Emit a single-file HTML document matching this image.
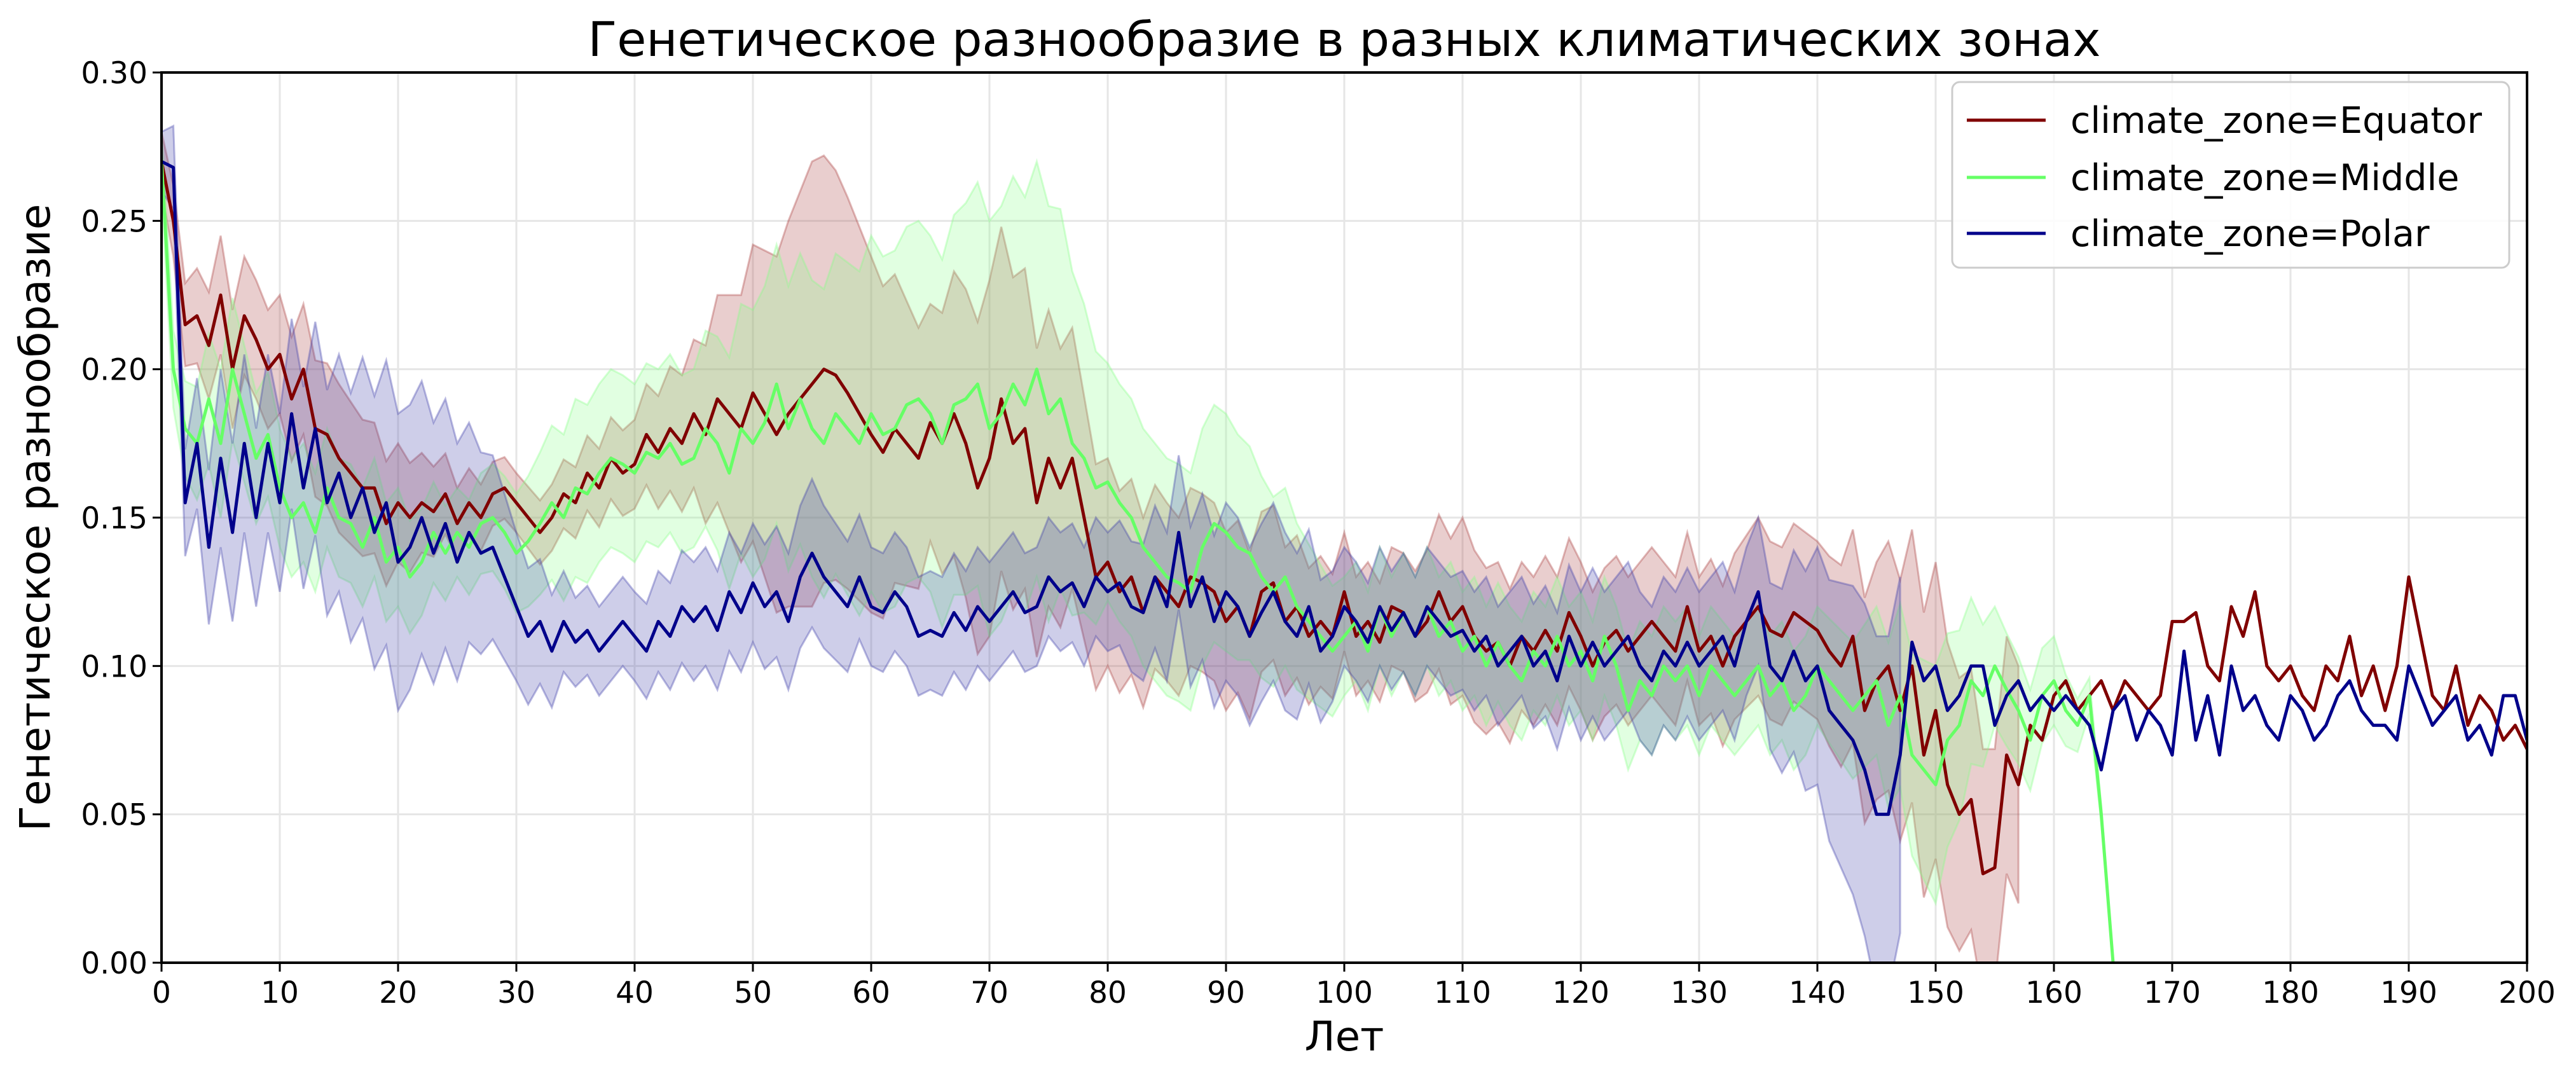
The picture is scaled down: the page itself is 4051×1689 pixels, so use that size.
<!DOCTYPE html>
<html><head><meta charset="utf-8"><style>
html,body{margin:0;padding:0;background:#fff;}
svg{display:block;font-family:"DejaVu Sans","Liberation Sans",sans-serif;}
</style></head><body>
<svg id="chart" width="4051" height="1689" viewBox="0 0 4051 1689" xmlns="http://www.w3.org/2000/svg">
<defs><clipPath id="clip"><rect x="254" y="114" width="3720" height="1400"/></clipPath></defs>
<rect width="4051" height="1689" fill="#fff"/>
<g id="grid"></g>
<g id="bands" clip-path="url(#clip)"></g>
<g id="lines" clip-path="url(#clip)"></g>
<rect x="254" y="114" width="3720" height="1400" fill="none" stroke="#000" stroke-width="4"/>
<g id="ticks"></g>
<text x="2114" y="88" font-size="75" text-anchor="middle">Генетическое разнообразие в разных климатических зонах</text>
<text x="2114" y="1652" font-size="64" text-anchor="middle">Лет</text>
<text transform="translate(78,814) rotate(-90)" font-size="66" text-anchor="middle">Генетическое разнообразие</text>
<g>
<rect x="3070" y="129" width="876" height="292" rx="12" fill="#fff" fill-opacity="0.85" stroke="#ccc" stroke-width="3"/>
<line x1="3093" y1="189" x2="3217" y2="189" stroke="#800000" stroke-width="5"/>
<text x="3256" y="209" font-size="57">climate_zone=Equator</text>
<line x1="3093" y1="279" x2="3217" y2="279" stroke="#66ff66" stroke-width="5"/>
<text x="3256" y="299" font-size="57">climate_zone=Middle</text>
<line x1="3093" y1="367" x2="3217" y2="367" stroke="#00008b" stroke-width="5"/>
<text x="3256" y="387" font-size="57">climate_zone=Polar</text>
</g>
</svg>
<script>
const xTicks = [0,10,20,30,40,50,60,70,80,90,100,110,120,130,140,150,160,170,180,190,200];
const yTicks = [0,0.05,0.10,0.15,0.20,0.25,0.30];
const yTickLabels = ["0.00","0.05","0.10","0.15","0.20","0.25","0.30"];
const equatorMean = [0.27,0.25,0.215,0.218,0.208,0.225,0.2,0.218,0.21,0.2,0.205,0.19,0.2,0.18,0.178,0.17,0.165,0.16,0.16,0.148,0.155,0.15,0.155,0.152,0.158,0.148,0.155,0.15,0.158,0.16,0.155,0.15,0.145,0.15,0.158,0.155,0.165,0.16,0.17,0.165,0.168,0.178,0.172,0.18,0.175,0.185,0.178,0.19,0.185,0.18,0.192,0.185,0.178,0.185,0.19,0.195,0.2,0.198,0.192,0.185,0.178,0.172,0.18,0.175,0.17,0.182,0.175,0.185,0.175,0.16,0.17,0.19,0.175,0.18,0.155,0.17,0.16,0.17,0.15,0.13,0.135,0.125,0.13,0.118,0.13,0.125,0.12,0.13,0.128,0.125,0.115,0.12,0.11,0.125,0.128,0.115,0.12,0.11,0.115,0.11,0.125,0.11,0.115,0.108,0.12,0.118,0.11,0.115,0.125,0.115,0.12,0.11,0.105,0.108,0.1,0.11,0.105,0.112,0.105,0.118,0.11,0.1,0.108,0.112,0.105,0.11,0.115,0.11,0.105,0.12,0.105,0.11,0.1,0.11,0.115,0.12,0.112,0.11,0.118,0.115,0.112,0.105,0.1,0.11,0.085,0.095,0.1,0.085,0.1,0.07,0.085,0.06,0.05,0.055,0.03,0.032,0.07,0.06,0.08,0.075,0.09,0.095,0.085,0.09,0.095,0.085,0.095,0.09,0.085,0.09,0.115,0.115,0.118,0.1,0.095,0.12,0.11,0.125,0.1,0.095,0.1,0.09,0.085,0.1,0.095,0.11,0.09,0.1,0.085,0.1,0.13,0.11,0.09,0.085,0.1,0.08,0.09,0.085,0.075,0.08,0.072];
const middleMean = [0.27,0.2,0.18,0.175,0.19,0.175,0.2,0.185,0.17,0.178,0.16,0.15,0.155,0.145,0.16,0.15,0.148,0.14,0.15,0.135,0.14,0.13,0.135,0.145,0.138,0.145,0.14,0.148,0.15,0.145,0.138,0.142,0.148,0.155,0.15,0.16,0.158,0.165,0.17,0.168,0.165,0.172,0.17,0.175,0.168,0.17,0.18,0.175,0.165,0.18,0.175,0.182,0.195,0.18,0.19,0.18,0.175,0.185,0.18,0.175,0.185,0.178,0.18,0.188,0.19,0.185,0.175,0.188,0.19,0.195,0.18,0.185,0.195,0.188,0.2,0.185,0.19,0.175,0.17,0.16,0.162,0.155,0.15,0.14,0.135,0.13,0.128,0.125,0.14,0.148,0.145,0.14,0.138,0.13,0.125,0.13,0.12,0.115,0.11,0.105,0.11,0.115,0.105,0.12,0.11,0.118,0.11,0.12,0.11,0.115,0.105,0.11,0.1,0.108,0.1,0.095,0.105,0.1,0.11,0.1,0.105,0.095,0.11,0.1,0.085,0.095,0.09,0.1,0.095,0.1,0.09,0.1,0.095,0.09,0.095,0.1,0.09,0.095,0.085,0.09,0.1,0.095,0.09,0.085,0.09,0.095,0.08,0.09,0.07,0.065,0.06,0.075,0.08,0.095,0.09,0.1,0.092,0.085,0.075,0.09,0.095,0.085,0.08,0.09,0.05,0.0];
const polarMean = [0.27,0.268,0.155,0.175,0.14,0.17,0.145,0.175,0.15,0.175,0.155,0.185,0.16,0.18,0.155,0.165,0.15,0.16,0.145,0.155,0.135,0.14,0.15,0.138,0.148,0.135,0.145,0.138,0.14,0.13,0.12,0.11,0.115,0.105,0.115,0.108,0.112,0.105,0.11,0.115,0.11,0.105,0.115,0.11,0.12,0.115,0.12,0.112,0.125,0.118,0.128,0.12,0.125,0.115,0.13,0.138,0.13,0.125,0.12,0.13,0.12,0.118,0.125,0.12,0.11,0.112,0.11,0.118,0.112,0.12,0.115,0.12,0.125,0.118,0.12,0.13,0.125,0.128,0.12,0.13,0.125,0.128,0.12,0.118,0.13,0.12,0.145,0.12,0.13,0.115,0.125,0.12,0.11,0.118,0.125,0.115,0.11,0.12,0.105,0.11,0.12,0.115,0.108,0.12,0.112,0.118,0.11,0.12,0.115,0.11,0.112,0.105,0.11,0.1,0.105,0.11,0.1,0.105,0.095,0.11,0.1,0.108,0.1,0.105,0.11,0.1,0.095,0.105,0.1,0.108,0.1,0.105,0.11,0.1,0.115,0.125,0.1,0.095,0.105,0.095,0.1,0.085,0.08,0.075,0.065,0.05,0.05,0.07,0.108,0.095,0.1,0.085,0.09,0.1,0.1,0.08,0.09,0.095,0.085,0.09,0.085,0.09,0.085,0.08,0.065,0.085,0.09,0.075,0.085,0.08,0.07,0.105,0.075,0.09,0.07,0.1,0.085,0.09,0.08,0.075,0.09,0.085,0.075,0.08,0.09,0.095,0.085,0.08,0.08,0.075,0.1,0.09,0.08,0.085,0.09,0.075,0.08,0.07,0.09,0.09,0.075];
// band half-widths sampled every 5 years
const equatorBand = [0.01,0.02,0.02,0.025,0.02,0.012,0.01,0.012,0.015,0.025,0.05,0.075,0.06,0.04,0.06,0.05,0.035,0.03,0.03,0.025,0.02,0.02,0.03,0.025,0.025,0.025,0.025,0.03,0.03,0.04,0.05,0.04];
const middleBand = [0.01,0.025,0.02,0.02,0.02,0.015,0.02,0.03,0.03,0.03,0.045,0.05,0.06,0.06,0.07,0.07,0.04,0.04,0.04,0.03,0.02,0.02,0.02,0.02,0.02,0.02,0.02,0.02,0.02,0.025,0.04,0.02,0.015,0.0];
const polarBand = [0.01,0.03,0.03,0.04,0.05,0.04,0.025,0.015,0.015,0.02,0.02,0.025,0.02,0.02,0.02,0.02,0.02,0.025,0.03,0.03,0.02,0.02,0.02,0.02,0.025,0.025,0.025,0.025,0.04,0.06];
const bandEnds = [157,165,147];

const NS='http://www.w3.org/2000/svg';
const L=254,R=3974,T=114,B=1514;
const xs=v=>L+(v/200)*(R-L);
const ys=v=>B-(v/0.3)*(B-T);
function mk(tag,attrs,parent){const e=document.createElementNS(NS,tag);for(const k in attrs)e.setAttribute(k,attrs[k]);parent.appendChild(e);return e;}
const grid=document.getElementById('grid'),ticks=document.getElementById('ticks');
xTicks.forEach(t=>{
  const g=mk('line',{x1:xs(t),x2:xs(t),y1:T,y2:B,stroke:'#e6e6e6','stroke-width':3},grid);
  
  
  const tk=mk('line',{x1:xs(t),x2:xs(t),y1:B,y2:B+14,stroke:'#000','stroke-width':3},ticks);
  
  
  const tx=mk('text',{x:xs(t),y:B+63,'font-size':47,'text-anchor':'middle'},ticks);
  tx.textContent=t;
  
  
});
yTicks.forEach((t,i)=>{
  const g=mk('line',{x1:L,x2:R,y1:ys(t),y2:ys(t),stroke:'#e6e6e6','stroke-width':3},grid);
  
  
  const tk=mk('line',{x1:L-14,x2:L,y1:ys(t),y2:ys(t),stroke:'#000','stroke-width':3},ticks);
  
  
  const tx=mk('text',{x:L-22,y:ys(t)+17,'font-size':47,'text-anchor':'end'},ticks);
  tx.textContent=yTickLabels[i];
  
  
});
function hwAt(band,x){const i=x/5,i0=Math.floor(i),i1=Math.min(i0+1,band.length-1);const a=band[Math.min(i0,band.length-1)]||0,b=band[i1]||0;return a+(b-a)*(i-i0);}
const series=[
 {name:'equator',mean:equatorMean,band:equatorBand,color:'#800000',fill:'#a83a3a'},
 {name:'middle',mean:middleMean,band:middleBand,color:'#66ff66',fill:'#88ff88'},
 {name:'polar',mean:polarMean,band:polarBand,color:'#00008b',fill:'#3a3aa8'}];
const bandsG=document.getElementById('bands'),linesG=document.getElementById('lines');
series.forEach((s,si)=>{
  const end=Math.min(bandEnds[si],s.mean.length-1);
  let up=[],lo=[];
  for(let x=0;x<=end;x++){const h=hwAt(s.band,x);up.push(xs(x)+','+ys(s.mean[x]+h));lo.unshift(xs(x)+','+ys(Math.max(-0.05,s.mean[x]-h)));}
  const p=mk('polygon',{points:up.concat(lo).join(' '),fill:s.fill,'fill-opacity':0.25,stroke:s.fill,'stroke-opacity':0.35,'stroke-width':3},bandsG);
  
  
});
series.forEach(s=>{
  const pts=s.mean.map((v,i)=>xs(i)+','+ys(v)).join(' ');
  const l=mk('polyline',{points:pts,fill:'none',stroke:s.color,'stroke-width':5,'stroke-linejoin':'round'},linesG);
  
  
});
</script>
</body></html>
